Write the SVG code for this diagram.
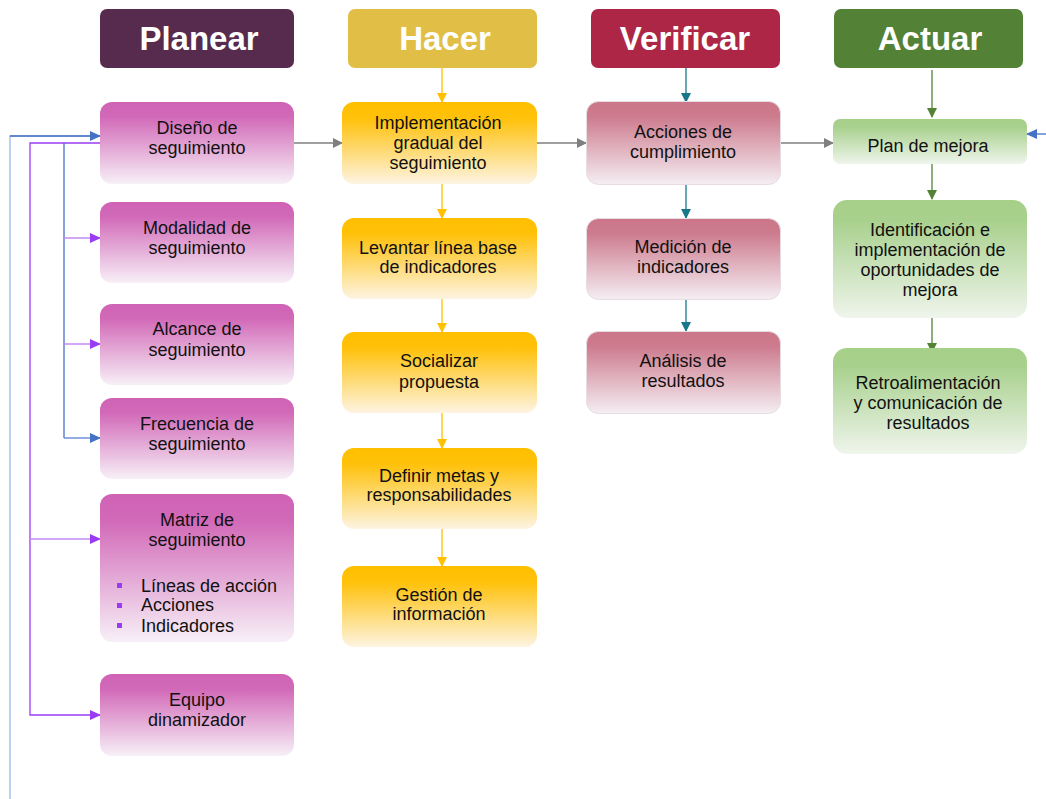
<svg xmlns="http://www.w3.org/2000/svg" width="1046" height="799" viewBox="0 0 1046 799">
<defs>
<linearGradient id="gP" x1="0" y1="0" x2="0" y2="1"><stop offset="0" stop-color="#d062b6"/><stop offset="0.18" stop-color="#d269b8"/><stop offset="1" stop-color="#f7f0f7"/></linearGradient>
<linearGradient id="gH" x1="0" y1="0" x2="0" y2="1"><stop offset="0" stop-color="#ffbf00"/><stop offset="0.2" stop-color="#ffc10a"/><stop offset="1" stop-color="#fdf4e2"/></linearGradient>
<linearGradient id="gV" x1="0" y1="0" x2="0" y2="1"><stop offset="0" stop-color="#cc7689"/><stop offset="0.18" stop-color="#cd7b8e"/><stop offset="1" stop-color="#f5eef3"/></linearGradient>
<linearGradient id="gA" x1="0" y1="0" x2="0" y2="1"><stop offset="0" stop-color="#a6cf88"/><stop offset="0.18" stop-color="#a9d18e"/><stop offset="1" stop-color="#eff5ec"/></linearGradient>
<marker id="mGray" markerWidth="10" markerHeight="10" refX="9" refY="5" orient="auto" markerUnits="userSpaceOnUse"><path d="M0,0 L10,5 L0,10 Z" fill="#7f7f7f"/></marker>
<marker id="mYel" markerWidth="10" markerHeight="10" refX="9" refY="5" orient="auto" markerUnits="userSpaceOnUse"><path d="M0,0 L10,5 L0,10 Z" fill="#ffc000"/></marker>
<marker id="mTeal" markerWidth="10" markerHeight="10" refX="9" refY="5" orient="auto" markerUnits="userSpaceOnUse"><path d="M0,0 L10,5 L0,10 Z" fill="#17788a"/></marker>
<marker id="mGreen" markerWidth="10" markerHeight="10" refX="9" refY="5" orient="auto" markerUnits="userSpaceOnUse"><path d="M0,0 L10,5 L0,10 Z" fill="#548235"/></marker>
<marker id="mBlue" markerWidth="11" markerHeight="10" refX="10" refY="5" orient="auto" markerUnits="userSpaceOnUse"><path d="M0,0 L11,5 L0,10 Z" fill="#4472c4"/></marker>
<marker id="mPurp" markerWidth="11" markerHeight="10" refX="10" refY="5" orient="auto" markerUnits="userSpaceOnUse"><path d="M0,0 L11,5 L0,10 Z" fill="#9b3cf5"/></marker>
</defs>
<style>
text{font-family:"Liberation Sans",Arial,sans-serif;font-size:18px;fill:#111;text-anchor:middle}
.hd{font-size:33px;font-weight:bold;fill:#fff}
.bl{text-anchor:start}
.ln{fill:none;stroke-width:1.3}
</style>

<g id="connectors">
<line class="ln" x1="294" y1="143" x2="342" y2="143" stroke="#7f7f7f" marker-end="url(#mGray)"/>
<line class="ln" x1="537" y1="143" x2="586" y2="143" stroke="#7f7f7f" marker-end="url(#mGray)"/>
<line class="ln" x1="781" y1="143" x2="833" y2="143" stroke="#7f7f7f" marker-end="url(#mGray)"/>
<line class="ln" x1="442" y1="68" x2="442" y2="102" stroke="#ffc000" marker-end="url(#mYel)"/>
<line class="ln" x1="442" y1="184" x2="442" y2="218" stroke="#ffc000" marker-end="url(#mYel)"/>
<line class="ln" x1="442" y1="299" x2="442" y2="332" stroke="#ffc000" marker-end="url(#mYel)"/>
<line class="ln" x1="442" y1="413" x2="442" y2="448" stroke="#ffc000" marker-end="url(#mYel)"/>
<line class="ln" x1="442" y1="529" x2="442" y2="566" stroke="#ffc000" marker-end="url(#mYel)"/>
<line class="ln" x1="686" y1="68" x2="686" y2="102" stroke="#17788a" marker-end="url(#mTeal)"/>
<line class="ln" x1="686" y1="181" x2="686" y2="218" stroke="#17788a" marker-end="url(#mTeal)"/>
<line class="ln" x1="686" y1="295" x2="686" y2="331" stroke="#17788a" marker-end="url(#mTeal)"/>
<line class="ln" x1="932" y1="70" x2="932" y2="117" stroke="#548235" marker-end="url(#mGreen)"/>
<line class="ln" x1="932" y1="164" x2="932" y2="199" stroke="#548235" marker-end="url(#mGreen)"/>
<line class="ln" x1="932" y1="318" x2="932" y2="352" stroke="#548235" marker-end="url(#mGreen)"/>
<line class="ln" x1="1046" y1="134" x2="1027" y2="134" stroke="#4472c4" marker-end="url(#mBlue)"/>
<polyline class="ln" points="10,799 10,136 100,136" stroke="#9fb9e8" stroke-width="2"/>
<line class="ln" x1="10" y1="136" x2="100" y2="136" stroke="#4472c4" marker-end="url(#mBlue)"/>
<polyline class="ln" points="101,143 30,143 30,715 100,715" stroke="#9b3cf5" marker-end="url(#mPurp)"/>
<line class="ln" x1="30" y1="539" x2="100" y2="539" stroke="#c28af5" marker-end="url(#mPurp)"/>
<line class="ln" x1="64" y1="143" x2="64" y2="438" stroke="#4472c4"/>
<line class="ln" x1="64" y1="238" x2="100" y2="238" stroke="#c28af5" marker-end="url(#mPurp)"/>
<line class="ln" x1="64" y1="344" x2="100" y2="344" stroke="#c28af5" marker-end="url(#mPurp)"/>
<line class="ln" x1="64" y1="438" x2="100" y2="438" stroke="#6f91d8" marker-end="url(#mBlue)"/>
</g>

<g id="h-planear"><rect x="100" y="9" width="194" height="59" rx="7" fill="#562b4d"/><text class="hd" x="199" y="50">Planear</text></g>
<g id="h-hacer"><rect x="348" y="9" width="189" height="59" rx="7" fill="#e1bf47"/><text class="hd" x="445" y="50">Hacer</text></g>
<g id="h-verificar"><rect x="591" y="9" width="189" height="59" rx="7" fill="#ad2646"/><text class="hd" x="685" y="50">Verificar</text></g>
<g id="h-actuar"><rect x="834" y="9" width="189" height="59" rx="7" fill="#538135"/><text class="hd" x="930" y="50">Actuar</text></g>

<g id="p1"><rect x="100" y="102" width="194" height="82" rx="12" fill="url(#gP)"/><text x="197" y="134">Diseño de</text><text x="197" y="154">seguimiento</text></g>
<g id="p2"><rect x="100" y="202" width="194" height="81" rx="12" fill="url(#gP)"/><text x="197" y="234">Modalidad de</text><text x="197" y="254">seguimiento</text></g>
<g id="p3"><rect x="100" y="304" width="194" height="81" rx="12" fill="url(#gP)"/><text x="197" y="335">Alcance de</text><text x="197" y="356">seguimiento</text></g>
<g id="p4"><rect x="100" y="398" width="194" height="81" rx="12" fill="url(#gP)"/><text x="197" y="430">Frecuencia de</text><text x="197" y="450">seguimiento</text></g>
<g id="p5"><rect x="100" y="494" width="194" height="148" rx="12" fill="url(#gP)"/><text x="197" y="526">Matriz de</text><text x="197" y="546">seguimiento</text>
<rect x="117" y="583" width="5" height="5" fill="#9b3cf5"/><rect x="117" y="603" width="5" height="5" fill="#9b3cf5"/><rect x="117" y="623" width="5" height="5" fill="#9b3cf5"/>
<text class="bl" x="141" y="592">Líneas de acción</text><text class="bl" x="141" y="611">Acciones</text><text class="bl" x="141" y="632">Indicadores</text></g>
<g id="p6"><rect x="100" y="674" width="194" height="82" rx="12" fill="url(#gP)"/><text x="197" y="706">Equipo</text><text x="197" y="726">dinamizador</text></g>

<g id="h1"><rect x="342" y="102" width="195" height="82" rx="12" fill="url(#gH)"/><text x="438" y="129">Implementación</text><text x="438" y="149">gradual del</text><text x="438" y="169">seguimiento</text></g>
<g id="h2"><rect x="342" y="218" width="195" height="81" rx="12" fill="url(#gH)"/><text x="438" y="254">Levantar línea base</text><text x="438" y="273">de indicadores</text></g>
<g id="h3"><rect x="342" y="332" width="195" height="81" rx="12" fill="url(#gH)"/><text x="439" y="367">Socializar</text><text x="439" y="388">propuesta</text></g>
<g id="h4"><rect x="342" y="448" width="195" height="81" rx="12" fill="url(#gH)"/><text x="439" y="482">Definir metas y</text><text x="439" y="501">responsabilidades</text></g>
<g id="h5"><rect x="342" y="566" width="195" height="81" rx="12" fill="url(#gH)"/><text x="439" y="601">Gestión de</text><text x="439" y="620">información</text></g>

<g id="v1"><rect x="586.5" y="101.5" width="194" height="83" rx="12" fill="url(#gV)" stroke="#e6dce2"/><text x="683" y="138">Acciones de</text><text x="683" y="158">cumplimiento</text></g>
<g id="v2"><rect x="586.5" y="218.5" width="194" height="81" rx="12" fill="url(#gV)" stroke="#e6dce2"/><text x="683" y="253">Medición de</text><text x="683" y="273">indicadores</text></g>
<g id="v3"><rect x="586.5" y="331.5" width="194" height="82" rx="12" fill="url(#gV)" stroke="#e6dce2"/><text x="683" y="367">Análisis de</text><text x="683" y="387">resultados</text></g>

<g id="a1"><rect x="833" y="119" width="194" height="45" rx="7" fill="url(#gA)"/><text x="928" y="152">Plan de mejora</text></g>
<g id="a2"><rect x="833" y="200" width="194" height="118" rx="14" fill="url(#gA)"/><text x="930" y="236">Identificación e</text><text x="930" y="256">implementación de</text><text x="930" y="276">oportunidades de</text><text x="930" y="296">mejora</text></g>
<g id="a3"><rect x="833" y="348" width="194" height="106" rx="14" fill="url(#gA)"/><text x="928" y="389">Retroalimentación</text><text x="928" y="409">y comunicación de</text><text x="928" y="429">resultados</text></g>
</svg>
